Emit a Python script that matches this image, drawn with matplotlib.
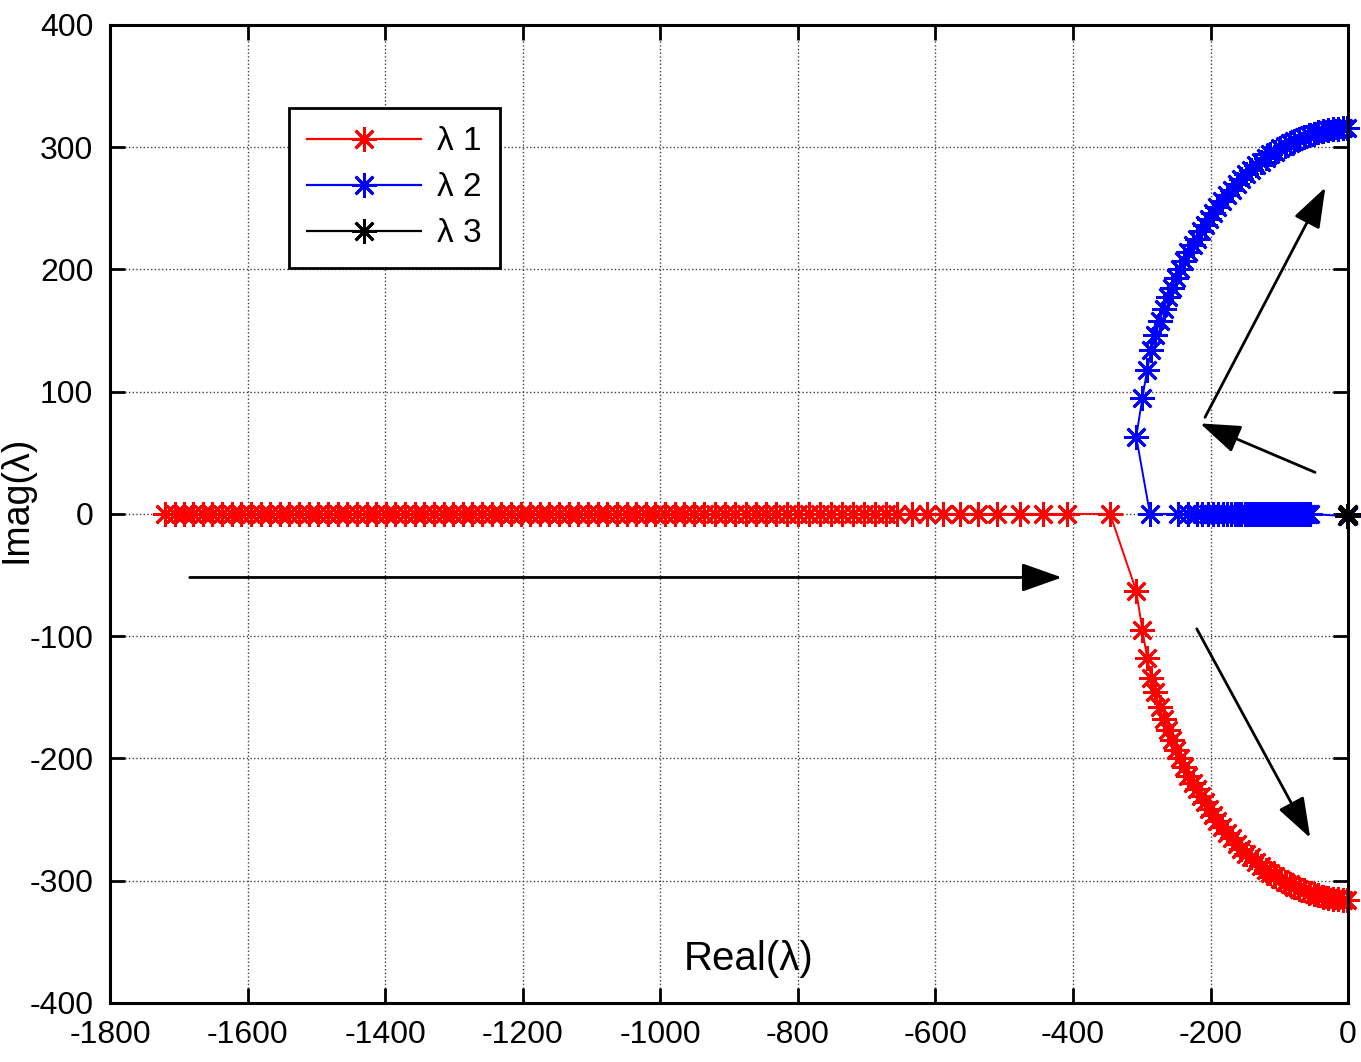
import matplotlib.pyplot as plt
from matplotlib.lines import Line2D

plt.rcParams['font.family'] = ['Liberation Sans', 'DejaVu Sans']
plt.rcParams['axes.unicode_minus'] = False

# lambda 1: real axis part (moving right), then lower complex branch
l1_re = [-1720, -1706, -1693, -1679, -1665, -1651, -1637, -1623, -1609, -1595,
         -1581, -1567, -1553, -1539, -1525, -1511, -1497, -1483, -1469, -1455,
         -1441, -1427, -1413, -1399, -1385, -1371, -1357, -1343, -1329, -1315,
         -1301, -1287, -1273, -1259, -1245, -1231, -1217, -1203, -1189, -1175,
         -1161, -1147, -1133, -1119, -1105, -1091, -1077, -1063, -1049, -1035,
         -1021, -1007, -993, -979, -965, -951, -936, -921, -906, -891,
         -876, -861, -846, -831, -816, -800, -784, -768, -752, -736,
         -720, -704, -688, -672, -656, -634, -612, -589, -564, -538,
         -510, -477, -443, -408, -346,
         -308, -299, -292, -286, -280, -274, -268, -262, -256, -250,
         -244, -238, -232, -226, -220, -214, -208, -202, -196, -190,
         -183, -176, -169, -162, -155, -148, -141, -134, -127, -120,
         -113, -106, -99, -92, -85, -78, -71, -64, -57, -50,
         -43, -36, -29, -22, -15, -8, -2]
l1_im = [0] * 85 + [
         -63, -95, -118, -134, -146, -158, -168, -177, -185, -193,
         -200, -207, -214, -220, -225, -231, -236, -241, -246, -251,
         -256, -261, -265, -270, -274, -278, -281, -285, -288, -291,
         -294, -296, -299, -301, -303, -305, -307, -308, -310, -311,
         -312, -313, -314, -315, -315, -316, -316]

# lambda 2: starts at the origin, runs left on the real axis, then upper branch
l2_re = [0, -55, -58, -61, -64, -67, -70, -73, -76, -79,
         -82, -85, -88, -91, -94, -97, -100, -103, -106, -109,
         -112, -115, -118, -121, -124, -127, -130, -134, -138, -142,
         -146, -150, -155, -160, -165, -170, -176, -182, -189, -196,
         -204, -212, -220, -233, -247, -288,
         -308, -299, -292, -286, -280, -274, -268, -262, -256, -250,
         -244, -238, -232, -226, -220, -214, -208, -202, -196, -190,
         -183, -176, -169, -162, -155, -148, -141, -134, -127, -120,
         -113, -106, -99, -92, -85, -78, -71, -64, -57, -50,
         -43, -36, -29, -22, -15, -8, -2]
l2_im = [-2] + [0] * 45 + [
         63, 95, 118, 134, 146, 158, 168, 177, 185, 193,
         200, 207, 214, 220, 225, 231, 236, 241, 246, 251,
         256, 261, 265, 270, 274, 278, 281, 285, 288, 291,
         294, 296, 299, 301, 303, 305, 307, 308, 310, 311,
         312, 313, 314, 315, 315, 316, 316]

# lambda 3 stays at the origin
l3_re = [-1.5, -0.8, -0.3]
l3_im = [-2, -1, 0]

star = (8, 2, 0)
ms, mew = 18, 2.0
fig = plt.figure(figsize=(13.61, 10.62), dpi=100)
ax = fig.add_axes([0.0808, 0.0556, 0.9097, 0.921])

kw = dict(marker=star, markersize=ms, markeredgewidth=mew, lw=1.4, clip_on=False)
ax.plot(l1_re, l1_im, color='red', **kw)
ax.plot(l2_re, l2_im, color='blue', **kw)
ax.plot(l3_re, l3_im, color='black', **kw)

ax.set_xlim(-1800, 0)
ax.set_ylim(-400, 400)
ax.set_xticks(range(-1800, 1, 200))
ax.set_yticks(range(-400, 401, 100))
ax.grid(True, linestyle=':', color='0.25', lw=1)
ax.tick_params(direction='in', length=11, width=2, labelsize=23,
               top=True, right=True, pad=12)
for s in ax.spines.values():
    s.set_linewidth(2.2)

ax.set_ylabel('Imag(λ)', fontsize=27)
ax.yaxis.set_label_coords(-0.061, 0.515)
ax.text(-872, -364, 'Real(λ)', fontsize=29, ha='center', va='center')

# direction arrows
arrows = [((-1684, -52), (-416, -52)),
          ((-48, 34), (-215, 74)),
          ((-208, 79), (-33, 267)),
          ((-220, -94), (-55, -265))]
for start, end in arrows:
    ax.annotate('', xy=end, xytext=start,
                arrowprops=dict(arrowstyle='-|>,head_length=0.62,head_width=0.22',
                                color='black', lw=2,
                                mutation_scale=40, shrinkA=0, shrinkB=0))

handles = [Line2D([], [], color=c, marker=star, markersize=ms,
                  markeredgewidth=mew, lw=1.6) for c in ['red', 'blue', 'black']]
leg = ax.legend(handles, ['λ 1', 'λ 2', 'λ 3'], loc='upper left',
                bbox_to_anchor=(0.1446, 0.915), borderaxespad=0, fontsize=24,
                fancybox=False, edgecolor='black', framealpha=1,
                handlelength=3.4, borderpad=0.55, labelspacing=0.45,
                handletextpad=0.5)
leg.get_frame().set_linewidth(2)

fig.savefig('out.png', dpi=100)
